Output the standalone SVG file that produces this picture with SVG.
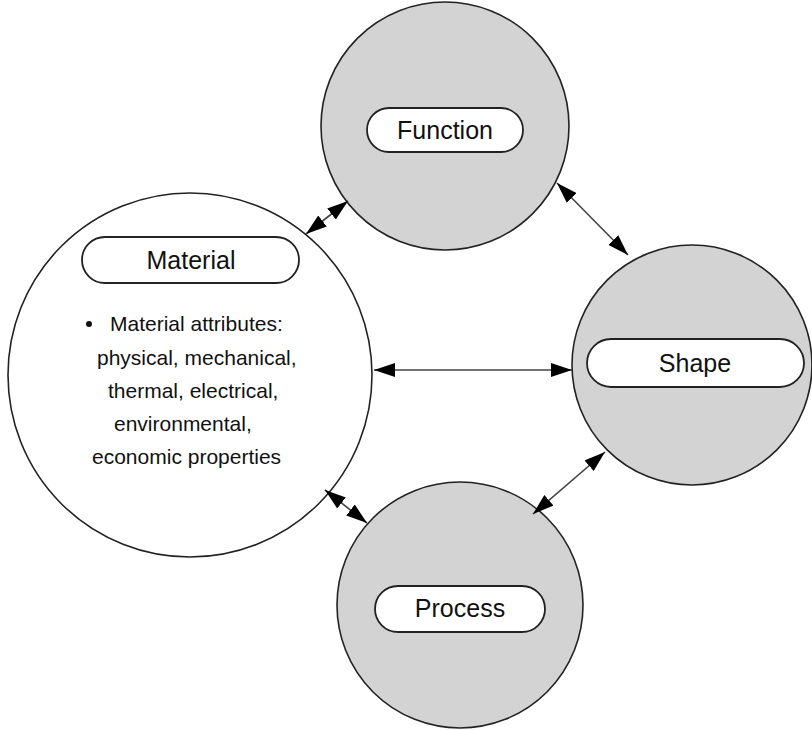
<svg xmlns="http://www.w3.org/2000/svg" width="812" height="730" viewBox="0 0 812 730">
<defs>
<marker id="ah" markerUnits="userSpaceOnUse" markerWidth="22" markerHeight="14" refX="21" refY="7" orient="auto-start-reverse">
<path d="M0,0 L21,7 L0,14 z" fill="#000"/>
</marker>
<style>
.c{stroke:#222;stroke-width:1.6}
.g{fill:#d3d3d3}
.w{fill:#fff}
.pill{fill:#fff;stroke:#222;stroke-width:1.8}
.lbl{font-family:"Liberation Sans",Arial,sans-serif;font-size:25px;fill:#111;text-anchor:middle}
.t{font-family:"Liberation Sans",Arial,sans-serif;font-size:21px;fill:#111}
.ln{stroke:#444;stroke-width:1.6;fill:none;marker-start:url(#ah);marker-end:url(#ah)}
</style>
</defs>
<rect width="812" height="730" fill="#fff"/>
<g id="material">
<circle class="c w" cx="190" cy="375" r="182"/>
<rect class="pill" x="82" y="237" width="217" height="46" rx="23"/>
<text class="lbl" x="191" y="269">Material</text>
<circle cx="89" cy="324" r="3" fill="#111"/>
<text class="t" x="110" y="331">Material attributes:</text>
<text class="t" x="97" y="365">physical, mechanical,</text>
<text class="t" x="108" y="398">thermal, electrical,</text>
<text class="t" x="114" y="431">environmental,</text>
<text class="t" x="92" y="464">economic properties</text>
</g>
<g id="function">
<circle class="c g" cx="445" cy="126" r="124"/>
<rect class="pill" x="367" y="108" width="156" height="44" rx="22"/>
<text class="lbl" x="445" y="139">Function</text>
</g>
<g id="shape">
<circle class="c g" cx="692" cy="365" r="120"/>
<rect class="pill" x="587" y="339" width="217" height="48" rx="24"/>
<text class="lbl" x="695" y="372">Shape</text>
</g>
<g id="process">
<circle class="c g" cx="460" cy="605" r="123"/>
<rect class="pill" x="375" y="586" width="170" height="46" rx="23"/>
<text class="lbl" x="460" y="617">Process</text>
</g>
<g id="connectors">
<line class="ln" x1="306" y1="234" x2="348" y2="201"/>
<line class="ln" x1="557" y1="183" x2="628" y2="255"/>
<line class="ln" x1="374" y1="370" x2="572" y2="370"/>
<line class="ln" x1="325" y1="490" x2="367" y2="523"/>
<line class="ln" x1="605" y1="452" x2="533" y2="514"/>
</g>
</svg>
